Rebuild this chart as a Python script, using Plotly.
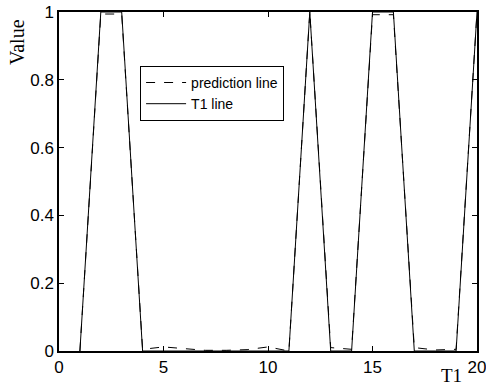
import plotly.graph_objects as go

x_vals = list(range(1, 21))
t1_line = [0, 1, 1, 0, 0, 0, 0, 0, 0, 0, 0, 1, 0, 0, 1, 1, 0, 0, 0, 1]
prediction_line = [0.0, 0.994, 0.994, 0.005, 0.012, 0.008, 0.002, 0.002, 0.004, 0.012,
                   0.0, 1.0, 0.01, 0.005, 0.992, 0.992, 0.01, 0.003, 0.005, 1.0]
x_ticks = [0, 5, 10, 15, 20]
y_ticks = [0, 0.2, 0.4, 0.6, 0.8, 1]
y_tick_text = ["0", "0.2", "0.4", "0.6", "0.8", "1"]

fig = go.Figure()
fig.add_trace(go.Scatter(x=x_vals, y=prediction_line, mode="lines", name="prediction line",
                         line=dict(color="black", width=1, dash="dash")))
fig.add_trace(go.Scatter(x=x_vals, y=t1_line, mode="lines", name="T1 line",
                         line=dict(color="black", width=1)))

axis_common = dict(showgrid=False, zeroline=False, showline=True, linecolor="black",
                   linewidth=1.5, mirror="ticks", ticks="inside", ticklen=5,
                   tickcolor="black", tickwidth=1, automargin=False,
                   ticklabeloverflow="allow",
                   tickfont=dict(family="Liberation Sans, Arial", size=17, color="black"))

fig.update_layout(
    width=486, height=389,
    margin=dict(l=59, r=9, t=12, b=38),
    paper_bgcolor="white", plot_bgcolor="white",
    showlegend=True,
    legend=dict(x=0.194, y=0.841, xanchor="left", yanchor="top",
                bordercolor="black", borderwidth=1, bgcolor="white",
                font=dict(family="Liberation Sans, Arial", size=14, color="black"),
                tracegroupgap=0, itemwidth=40),
    xaxis=dict(range=[0, 20], tickvals=x_ticks, **axis_common),
    yaxis=dict(range=[0, 1], tickvals=y_ticks, ticktext=y_tick_text, **axis_common),
    annotations=[
        dict(text="Value", x=-0.1005, y=0.9115, xref="paper", yref="paper", showarrow=False,
             xanchor="center", yanchor="middle", textangle=-90,
             font=dict(family="Liberation Serif, Times New Roman", size=20, color="black")),
        dict(text="T1", x=0.94, y=-0.071, xref="paper", yref="paper", showarrow=False,
             xanchor="center", yanchor="middle",
             font=dict(family="Liberation Serif, Times New Roman", size=19, color="black")),
    ],
)

fig.write_html("out.html", config={"displayModeBar": False},
               post_script="document.documentElement.style.overflow='hidden';document.body.style.margin='0';document.body.style.overflow='hidden';")
